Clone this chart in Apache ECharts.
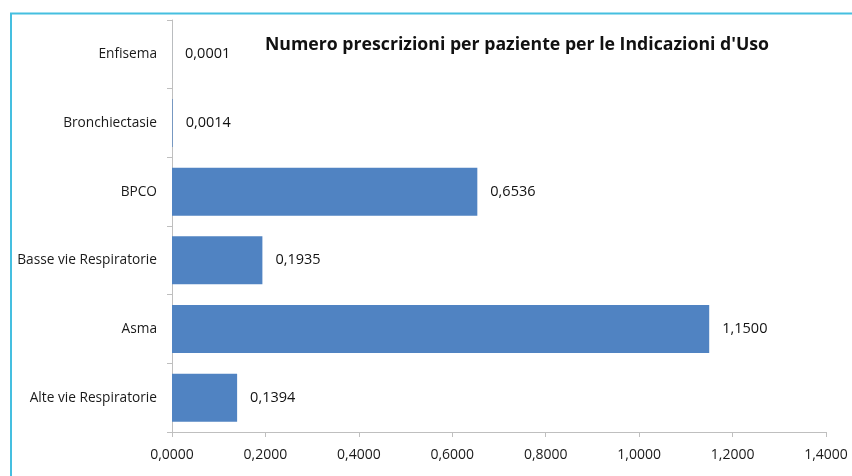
<!DOCTYPE html>
<html>
<head>
<meta charset="utf-8">
<script src="https://cdn.jsdelivr.net/npm/echarts@6/dist/echarts.min.js"></script>
<style>
  html, body { margin: 0; padding: 0; background: #ffffff; }
  #chart { width: 852px; height: 476px; }
</style>
</head>
<body>
<div id="chart"></div>
<script>
// Indicazioni d'uso (bottom to top on the axis)
const categories = [
  "Alte vie Respiratorie",
  "Asma",
  "Basse vie Respiratorie",
  "BPCO",
  "Bronchiectasie",
  "Enfisema"
];
// Numero prescrizioni per paziente
const values = [0.1394, 1.1500, 0.1935, 0.6536, 0.0014, 0.0001];
const xTicks = [0, 0.2, 0.4, 0.6, 0.8, 1.0, 1.2, 1.4];

const fmt = v => v.toFixed(4).replace('.', ',');
const textFont = '"Open Sans", "Noto Sans", sans-serif';

const chart = echarts.init(document.getElementById('chart'), null, { renderer: 'canvas' });

chart.setOption({
  backgroundColor: '#ffffff',
  animation: false,
  title: {
    text: "Numero prescrizioni per paziente per le Indicazioni d'Uso",
    left: 512,
    top: 31,
    textAlign: 'center',
    textStyle: {
      fontFamily: textFont,
      fontWeight: 'bold',
      fontSize: 17.7,
      color: '#111111'
    }
  },
  graphic: [
    {
      type: 'polyline',
      shape: { points: [[11, 476], [11, 13.5], [852, 13.5]] },
      style: { stroke: '#45BFE0', lineWidth: 2, fill: null }
    }
  ],
  grid: { left: 172, right: 26, top: 20, bottom: 44, containLabel: false },
  xAxis: {
    type: 'value',
    min: xTicks[0],
    max: xTicks[xTicks.length - 1],
    interval: 0.2,
    splitLine: { show: false },
    axisLine: { show: true, lineStyle: { color: '#BFBFBF', width: 1 } },
    axisTick: { show: true, length: 5, lineStyle: { color: '#BFBFBF' } },
    axisLabel: {
      formatter: v => fmt(v),
      fontFamily: textFont,
      fontSize: 14,
      color: '#1a1a1a',
      margin: 16
    }
  },
  yAxis: {
    type: 'category',
    data: categories,
    axisLine: { show: true, lineStyle: { color: '#BFBFBF', width: 1 } },
    axisTick: { show: true, length: 5, alignWithLabel: false, lineStyle: { color: '#BFBFBF' } },
    axisLabel: {
      fontFamily: textFont,
      fontSize: 13.7,
      color: '#1a1a1a',
      margin: 15
    }
  },
  series: [
    {
      type: 'bar',
      data: values,
      barCategoryGap: '30%',
      itemStyle: {
        color: '#5083C2',
        borderWidth: 0
      },
      label: {
        show: true,
        position: 'right',
        distance: 13,
        formatter: p => fmt(p.value),
        fontFamily: textFont,
        fontSize: 14.5,
        color: '#111111'
      }
    }
  ]
});
</script>
</body>
</html>
